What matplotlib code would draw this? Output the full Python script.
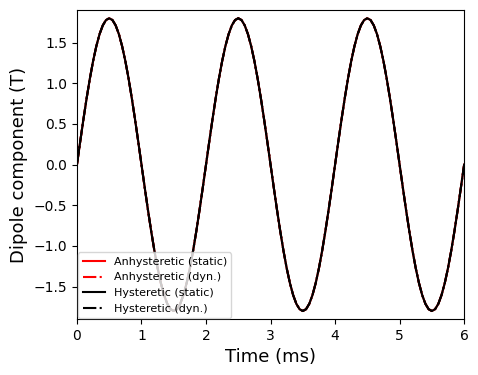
import numpy as np
from matplotlib import pyplot as plt

# time axis (ms) and dipole component (T), every 0.05 ms
time_ms = [round(0.05 * i, 2) for i in range(121)]

half_up = [0.0, 0.282, 0.556, 0.817, 1.058, 1.273, 1.456, 1.604, 1.712, 1.778,
           1.8, 1.778, 1.712, 1.604, 1.456, 1.273, 1.058, 0.817, 0.556, 0.282]
half_dn = [-v for v in half_up]

anhyst_static = half_up + half_dn + half_up + half_dn + half_up + half_dn + [0.0]
anhyst_dyn    = list(anhyst_static)
hyst_static   = list(anhyst_static)
hyst_dyn      = list(anhyst_static)

labels = ['Anhysteretic (static)', 'Anhysteretic (dyn.)',
          'Hysteretic (static)', 'Hysteretic (dyn.)']

fig = plt.figure(figsize=(4.78, 3.75), dpi=100)
ax = fig.add_axes([0.161, 0.149, 0.81, 0.824])

ax.plot(time_ms, anhyst_static, color='red', linestyle='-', label=labels[0])
ax.plot(time_ms, anhyst_dyn, color='red', linestyle='-.', label=labels[1])
ax.plot(time_ms, hyst_static, color='black', linestyle='-', label=labels[2])
ax.plot(time_ms, hyst_dyn, color='black', linestyle='-.', label=labels[3])

ax.set_xlim(0, 6)
ax.set_ylim(-1.9, 1.9)
ax.set_xlabel('Time (ms)', fontsize=13)
ax.set_ylabel('Dipole component (T)', fontsize=13)
ax.legend(loc='lower left', fontsize=8, borderaxespad=0.1)

fig.savefig('out.png', dpi=100)
